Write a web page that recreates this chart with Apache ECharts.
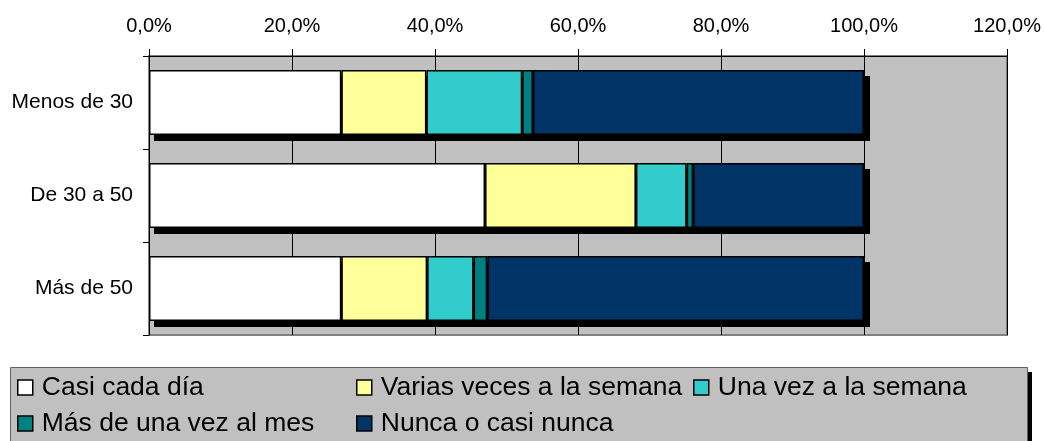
<!DOCTYPE html>
<html>
<head>
    <meta charset="utf-8">
    <title>Frecuencia por edad</title>
    <script src="https://cdn.jsdelivr.net/npm/echarts@6/dist/echarts.min.js"></script>
    <style>
        html, body { margin: 0; padding: 0; background: #fff; }
        #chart { width: 1045px; height: 441px; }
    </style>
</head>
<body>
    <div id="chart"></div>
    <script>
    // categorías (de arriba a abajo) y porcentajes
    const categories = ['Menos de 30', 'De 30 a 50', 'Más de 50'];
    const seriesNames = ['Casi cada día', 'Varias veces a la semana', 'Una vez a la semana',
                         'Más de una vez al mes', 'Nunca o casi nunca'];
    const casiCadaDia = [26.9, 47.0, 26.9];
    const variasVeces = [11.9, 21.1, 12.0];
    const unaVezSemana = [13.4, 7.1, 6.5];
    const masDeUnaVezMes = [1.5, 0.9, 1.9];
    const nuncaCasiNunca = [46.3, 23.9, 52.7];
    const colors = ['#FFFFFF', '#FFFF99', '#33CCCC', '#008080', '#003366'];

    const values = [casiCadaDia, variasVeces, unaVezSemana, masDeUnaVezMes, nuncaCasiNunca];
    const font = '"Liberation Sans", Arial, sans-serif';

    const series = seriesNames.map(function (name, i) {
        return {
            name: name,
            type: 'bar',
            stack: 'total',
            barWidth: '70%',
            z: 3,
            data: values[i],
            itemStyle: { color: colors[i], borderColor: '#000', borderWidth: 1.5 },
            emphasis: { disabled: true }
        };
    });

    // sombra negra de cada barra completa (desplazada unos píxeles)
    const totals = categories.map(function (c, j) {
        return [values.reduce(function (s, v) { return s + v[j]; }, 0), j];
    });
    series.push({
        type: 'custom',
        z: 2,
        silent: true,
        data: totals,
        encode: { x: 0, y: 1 },
        renderItem: function (params, api) {
            const start = api.coord([0, api.value(1)]);
            const end = api.coord([api.value(0), api.value(1)]);
            const h = api.size([0, 1])[1] * 0.7;
            return {
                type: 'rect',
                shape: { x: start[0] + 5, y: start[1] - h / 2 + 6, width: end[0] - start[0] + 1, height: h },
                style: { fill: '#000' }
            };
        }
    });

    // posiciones de la leyenda (dos filas)
    const legendPos = [[17, 374], [356, 374], [693, 374], [17, 410], [356, 410]];
    const legends = seriesNames.map(function (name, i) {
        return {
            data: [name],
            left: legendPos[i][0],
            top: legendPos[i][1],
            padding: 0,
            itemWidth: 15,
            itemHeight: 15,
            icon: 'rect',
            selectedMode: false,
            itemStyle: { borderColor: '#000', borderWidth: 1.5 },
            textStyle: { fontFamily: font, fontSize: 26.5, color: '#000', lineHeight: 27, padding: [0, 0, 0, 4] }
        };
    });

    const option = {
        animation: false,
        backgroundColor: '#fff',
        graphic: [{
            type: 'rect',
            z: -11,
            shape: { x: 15, y: 372, width: 1017, height: 90 },
            style: { fill: '#000' }
        }, {
            type: 'rect',
            z: -10,
            shape: { x: 10.5, y: 367.5, width: 1017, height: 90 },
            style: { fill: '#C0C0C0', stroke: '#606060', lineWidth: 1 }
        }],
        legend: legends,
        grid: {
            left: 149, right: 38, top: 56, bottom: 106,
            show: true,
            backgroundColor: '#C0C0C0',
            borderColor: '#808080',
            borderWidth: 2
        },
        xAxis: {
            type: 'value',
            position: 'top',
            min: 0, max: 120, interval: 20,
            axisLine: { show: true, lineStyle: { color: '#000', width: 1 } },
            axisTick: { show: true, length: 7, lineStyle: { color: '#000' } },
            splitLine: { show: true, lineStyle: { color: '#000', width: 1 } },
            axisLabel: {
                margin: 20,
                fontFamily: font, fontSize: 20, color: '#000',
                formatter: function (v) { return v.toFixed(1).replace('.', ',') + '%'; }
            }
        },
        yAxis: {
            type: 'category',
            inverse: true,
            data: categories,
            axisLine: { show: true, lineStyle: { color: '#000', width: 1 } },
            axisTick: { show: true, length: 6, lineStyle: { color: '#000' } },
            axisLabel: { margin: 16, fontFamily: font, fontSize: 21, color: '#000' }
        },
        series: series
    };

    const chart = echarts.init(document.getElementById('chart'), null, { renderer: 'canvas' });
    chart.setOption(option);
    </script>
</body>
</html>
